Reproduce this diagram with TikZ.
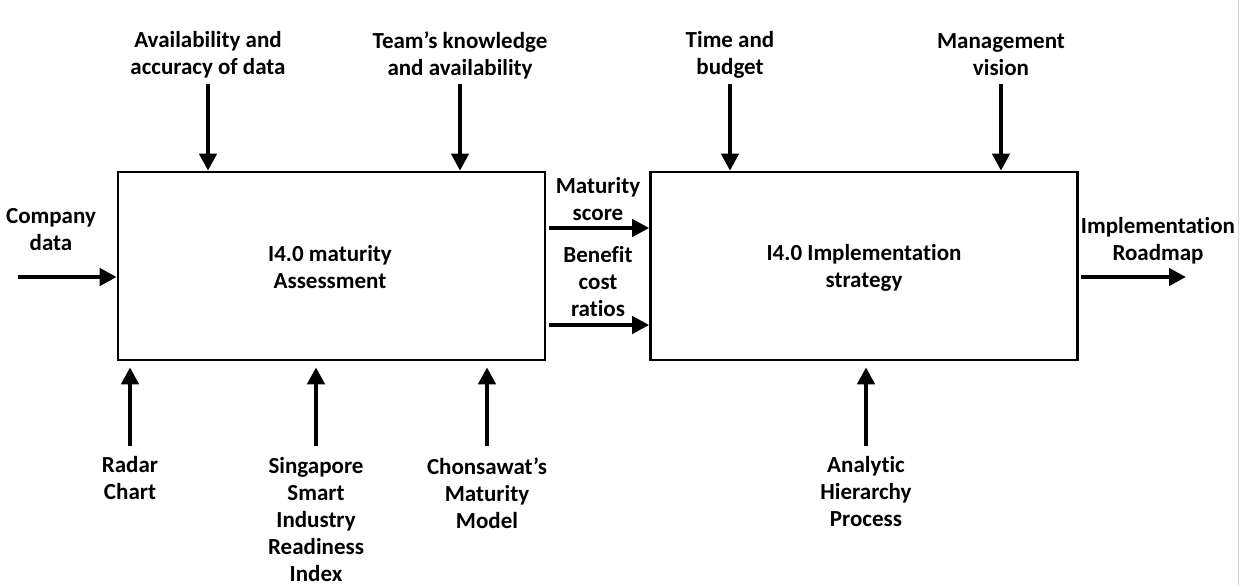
\documentclass[tikz,border=0pt]{standalone}
\usepackage{fontspec}
\setmainfont[Ligatures={NoCommon}]{Carlito}
\usetikzlibrary{arrows.meta}
\begin{document}
\begin{tikzpicture}[x=1pt,y=-1pt,
  lbl/.style={align=center,inner sep=0pt,font=\bfseries\fontsize{23}{27}\selectfont},
  blk/.style={draw,line width=2.6pt,minimum width=427pt,minimum height=188pt,inner sep=0pt},
  arr/.style={line width=4.5pt,-{Triangle[length=17pt,width=17pt]}}]
\useasboundingbox (0,0) rectangle (1244,586);
\draw[black!15,line width=1pt] (1238,0) -- (1238,586);
% boxes
\node[blk] (A) at (331.5,266) {};
\node[blk] (B) at (864,266) {};
\node[lbl] (At) at (330,267) {I4.0 maturity\\Assessment};
\node[lbl] (Bt) at (864,268) {I4.0 Implementation\\strategy};
% left input
\node[lbl] (cd) at (51,230) {Company\\data};
\coordinate (cd0) at (18,277);
\draw[arr] (cd0) -- (A.west|-cd0);
% top controls box A
\node[lbl] (t1) at (208,55) {Availability and\\accuracy of data};
\node[lbl] (t2) at (460,55) {Team’s knowledge\\and availability};
\coordinate (t1a) at (208,84);
\coordinate (t2a) at (460,84);
\draw[arr] (t1a) -- (t1a|-A.north);
\draw[arr] (t2a) -- (t2a|-A.north);
% top controls box B
\node[lbl] (t3) at (730,55) {Time and\\budget};
\node[lbl] (t4) at (1001,55) {Management\\vision};
\coordinate (t3a) at (730,84);
\coordinate (t4a) at (1001,84);
\draw[arr] (t3a) -- (t3a|-B.north);
\draw[arr] (t4a) -- (t4a|-B.north);
% between
\node[lbl] (ms) at (598,199) {Maturity\\score};
\node[lbl] (bc) at (598,282) {Benefit\\cost\\ratios};
\coordinate (m1) at (549,228);
\coordinate (m2) at (549,325);
\draw[arr] (m1) -- (B.west|-m1);
\draw[arr] (m2) -- (B.west|-m2);
% output
\node[lbl] (ir) at (1158,241) {Implementation\\Roadmap};
\coordinate (o1) at (1186,277);
\draw[arr] (B.east|-o1) ++(2,0) -- (o1);
% bottom mechanisms
\node[lbl] (b1) at (130,478) {Radar\\Chart};
\node[lbl] (b2) at (316,520) {Singapore\\Smart\\Industry\\Readiness\\Index};
\node[lbl] (b3) at (487,493) {Chonsawat’s\\Maturity\\Model};
\node[lbl] (b4) at (866,492) {Analytic\\Hierarchy\\Process};
\coordinate (b1a) at (130,446);
\coordinate (b2a) at (316,446);
\coordinate (b3a) at (487,446);
\coordinate (b4a) at (866,446);
\draw[arr] (b1a) -- ([yshift=-6pt]b1a|-A.south);
\draw[arr] (b2a) -- ([yshift=-6pt]b2a|-A.south);
\draw[arr] (b3a) -- ([yshift=-6pt]b3a|-A.south);
\draw[arr] (b4a) -- ([yshift=-6pt]b4a|-B.south);
\end{tikzpicture}
\end{document}
